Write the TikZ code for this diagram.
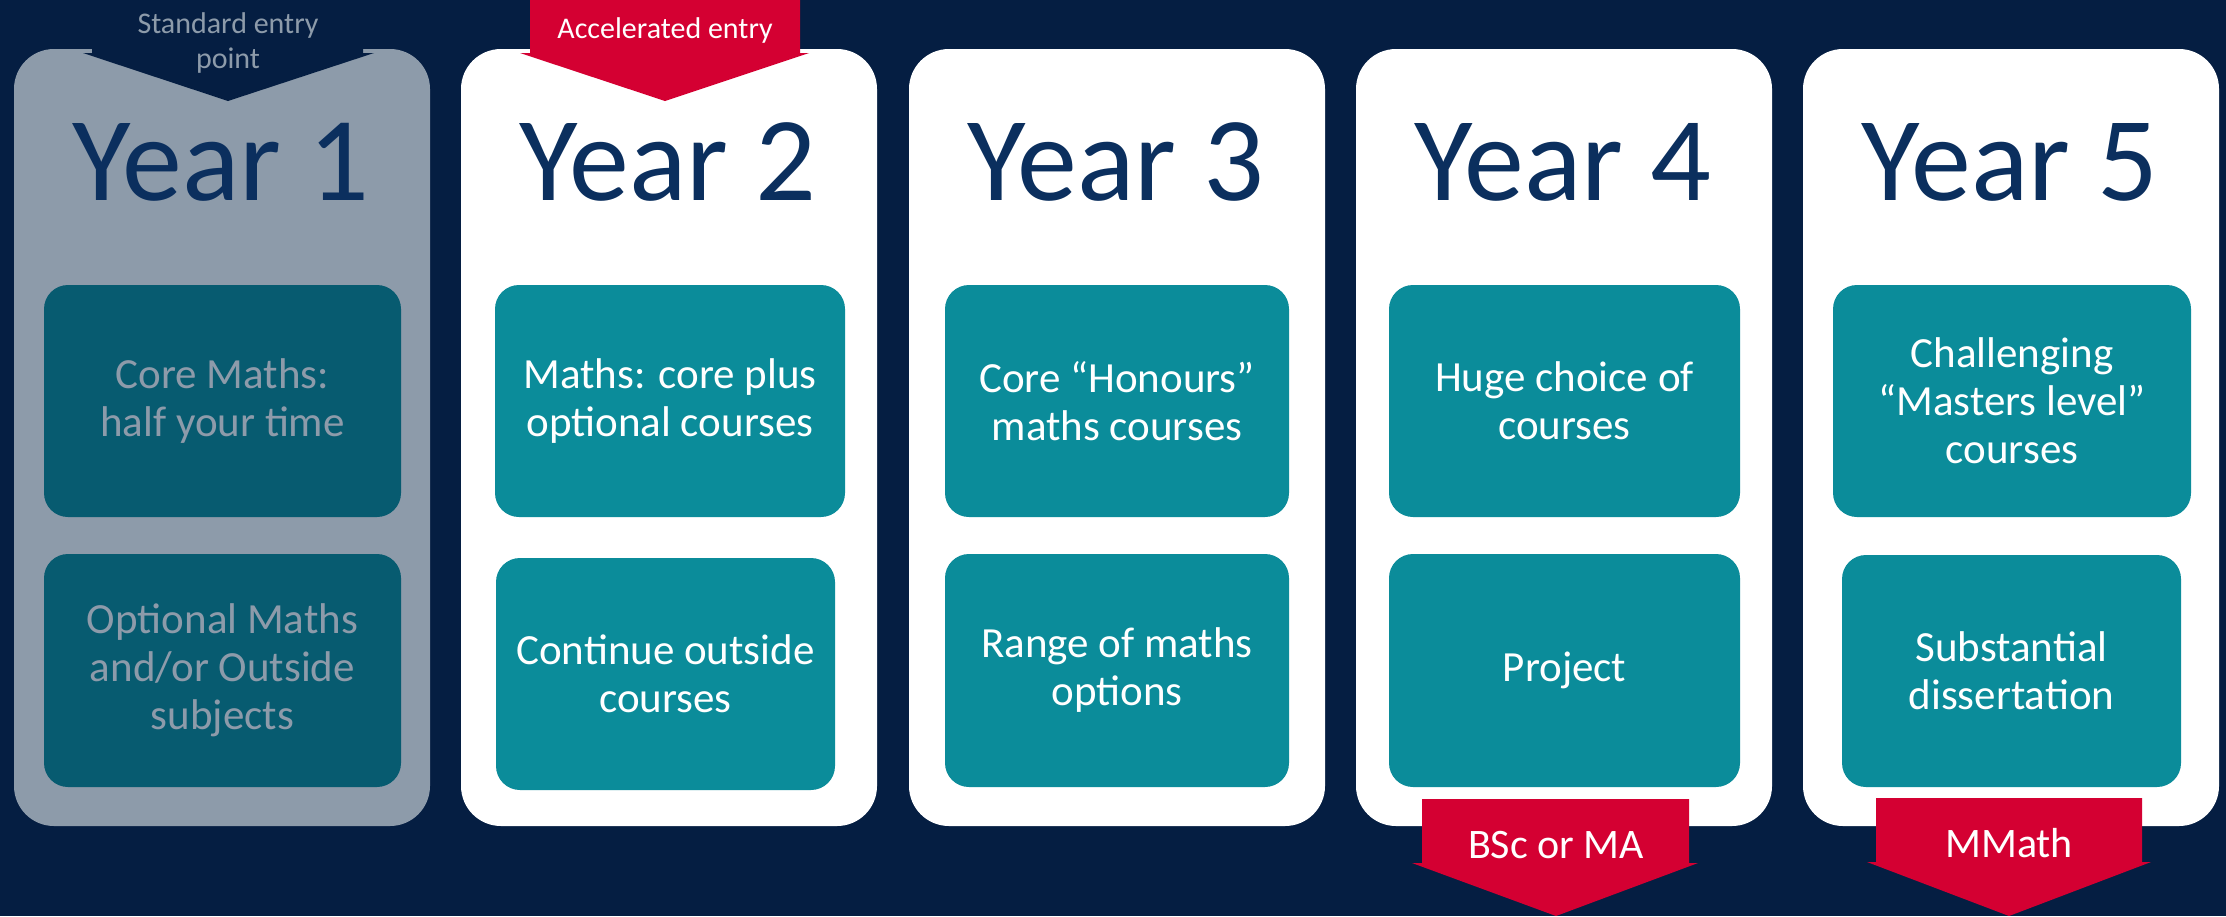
\documentclass[tikz,border=0pt]{standalone}
\usepackage{fontspec}
\setmainfont{Carlito}
\definecolor{bgnavy}{HTML}{051E42}
\definecolor{yearblue}{HTML}{0B2F5E}
\definecolor{fadegray}{HTML}{8D9BAA}
\definecolor{tealbox}{HTML}{0B8C9A}
\definecolor{darkteal}{HTML}{075B70}
\definecolor{accent}{HTML}{D40032}
\tikzset{
  yearbox/.style={fill=white, rounded corners=20pt, minimum width=208pt, minimum height=388.5pt, inner sep=0pt},
  yearfaded/.style={yearbox, fill=fadegray},
  yeartitle/.style={anchor=base, text=yearblue, inner sep=0pt, font=\fontsize{60}{62}\selectfont},
  course/.style={fill=tealbox, text=white, rounded corners=12pt, inner sep=0pt, align=center, minimum height=116pt, font=\fontsize{21.5}{24}\selectfont},
  coursefaded/.style={course, fill=darkteal, text=fadegray},
  banner/.style={fill=accent},
  bannertext/.style={text=white, inner sep=0pt, align=center},
  smalltext/.style={font=\fontsize{15}{17.5}\selectfont},
  bigtext/.style={font=\fontsize{21}{24}\selectfont}
}
\begin{document}
\begin{tikzpicture}[x=0.5pt,y=-0.5pt]
\useasboundingbox (0,0) rectangle (2226,916);
\fill[bgnavy] (0,0) rectangle (2226,916);

% year columns
\node[yearfaded] (y1) at (222,437.5) {};
\node[yearbox] (y2) at (669,437.5) {};
\node[yearbox] (y3) at (1117,437.5) {};
\node[yearbox] (y4) at (1564,437.5) {};
\node[yearbox] (y5) at (2011,437.5) {};

% entry arrows
\fill[bgnavy] (92,0) -- (363,0) -- (363,53) -- (374,53) -- (228,101) -- (83,53) -- (92,53) -- cycle;
\fill[accent] (530,0) -- (800,0) -- (800,53) -- (809,53) -- (665,101) -- (520,53) -- (530,53) -- cycle;
\node[text=fadegray, inner sep=0pt, align=center, smalltext] (std) at (228,43) {Standard entry\\point};
\node[bannertext, smalltext] (acc) at (665,30) {Accelerated entry};

% titles
\node[yeartitle] (t1) at (221,200) {Year 1};
\node[yeartitle] (t2) at (668,200) {Year 2};
\node[yeartitle] (t3) at (1116,200) {Year 3};
\node[yeartitle] (t4) at (1563,200) {Year 4};
\node[yeartitle] (t5) at (2010,200) {Year 5};

% course boxes
\node[coursefaded, minimum width=178.5pt] (c1a) at (222.5,401) {Core Maths:\\half your time};
\node[coursefaded, minimum width=178.5pt, minimum height=116.5pt] (c1b) at (222.5,670.5) {Optional Maths\\and/or Outside\\subjects};
\node[course, minimum width=175pt] (c2a) at (670,401) {Maths: core plus\\optional courses};
\node[course, minimum width=169.5pt] (c2b) at (665.5,674) {Continue outside\\courses};
\node[course, minimum width=172pt] (c3a) at (1117,401) {Core “Honours”\\maths courses};
\node[course, minimum width=172pt, minimum height=116.5pt] (c3b) at (1117,670.5) {Range of maths\\options};
\node[course, minimum width=175.5pt] (c4a) at (1564.5,401) {Huge choice of\\courses};
\node[course, minimum width=175.5pt, minimum height=116.5pt] (c4b) at (1564.5,670.5) {Project};
\node[course, minimum width=179pt] (c5a) at (2012,401) {Challenging\\“Masters level”\\courses};
\node[course, minimum width=169.5pt] (c5b) at (2011.5,671) {Substantial\\dissertation};

% exit arrows
\fill[accent] (1422,799) -- (1689,799) -- (1689,863) -- (1698,863) -- (1556,916) -- (1412,863) -- (1422,863) -- cycle;
\fill[accent] (1876,798) -- (2142,798) -- (2142,862) -- (2151,862) -- (2009,916) -- (1867,862) -- (1876,862) -- cycle;
\node[bannertext, bigtext] (bsc) at (1556,845) {BSc or MA};
\node[bannertext, bigtext] (mmath) at (2009,843) {MMath};
\end{tikzpicture}
\end{document}
